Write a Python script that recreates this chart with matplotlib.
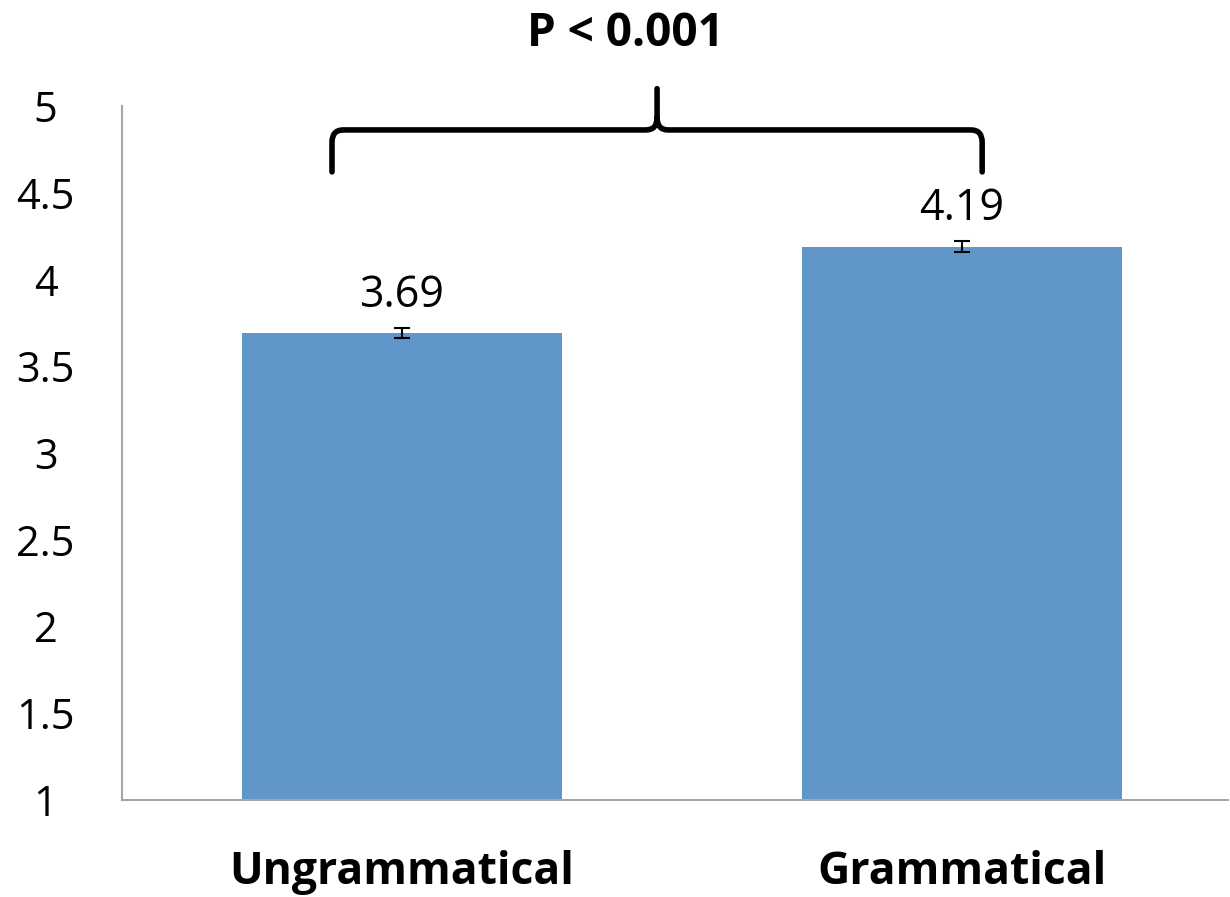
import matplotlib
matplotlib.use("Agg")
import matplotlib.pyplot as plt
import numpy as np
from matplotlib.path import Path
from matplotlib.patches import PathPatch

categories = ["Ungrammatical", "Grammatical"]
values = [3.69, 4.19]
errors = [0.03, 0.03]
labels = ["3.69", "4.19"]
yticks = [1, 1.5, 2, 2.5, 3, 3.5, 4, 4.5, 5]
ytick_labels = ["1", "1.5", "2", "2.5", "3", "3.5", "4", "4.5", "5"]
p_text = "P < 0.001"

plt.rcParams['font.family'] = ['Open Sans', 'DejaVu Sans']

fig = plt.figure(figsize=(12.3, 8.97), dpi=100)
W, H = 1230, 897
ax = fig.add_axes([122 / W, 1 - 800 / H, (1228 - 122) / W, (800 - 106) / H])

x = np.arange(len(categories))
ax.bar(x, np.array(values) - 1, bottom=1, width=0.571, color="#6096C9", zorder=2)
ax.errorbar(x, values, yerr=errors, fmt="none", ecolor="black", elinewidth=1.5,
            capsize=6, capthick=1.5, zorder=3)
for xi, v, lab in zip(x, values, labels):
    ax.text(xi, v + 0.09, lab, ha="center", va="bottom", fontsize=31, color="black")

ax.set_xlim(-0.5, 1.475)
ax.set_ylim(1, 5)
ax.set_yticks(yticks)
ax.set_yticklabels(ytick_labels, fontsize=30)
ax.set_xticks(x)
ax.set_xticklabels(categories, fontsize=32, fontweight="bold")
ax.tick_params(axis="y", length=0, pad=55)
ax.tick_params(axis="x", length=0, pad=36)
for lab in ax.get_yticklabels():
    lab.set_horizontalalignment("center")
for s in ["top", "right"]:
    ax.spines[s].set_visible(False)
for s in ["left", "bottom"]:
    ax.spines[s].set_color("#A6A6A6")
    ax.spines[s].set_linewidth(1.5)

# brace over the two bars (data coordinates, clip off)
xl, xr = -0.125, 1.036
xm = (xl + xr) / 2
yb, yh, yt = 4.62, 4.862, 5.10
r = 0.02
ry = 0.07
verts = [
    (xl, yb), (xl, yh - ry), (xl, yh), (xl + r, yh),
    (xm - r, yh), (xm, yh), (xm, yh + ry), (xm, yt),
    (xm, yh + ry), (xm, yh), (xm + r, yh),
    (xr - r, yh), (xr, yh), (xr, yh - ry), (xr, yb),
]
codes = [Path.MOVETO, Path.LINETO, Path.CURVE3, Path.CURVE3,
         Path.LINETO, Path.CURVE3, Path.CURVE3, Path.LINETO,
         Path.MOVETO, Path.CURVE3, Path.CURVE3,
         Path.LINETO, Path.CURVE3, Path.CURVE3, Path.LINETO]
brace = PathPatch(Path(verts, codes), fill=False, lw=4, edgecolor="black",
                  clip_on=False, capstyle="round", joinstyle="round")
ax.add_patch(brace)

fig.text(625 / W, 1 - 33 / H, p_text, ha="center", va="center", fontsize=33,
         fontweight="bold")

fig.savefig("out.png", dpi=100)
